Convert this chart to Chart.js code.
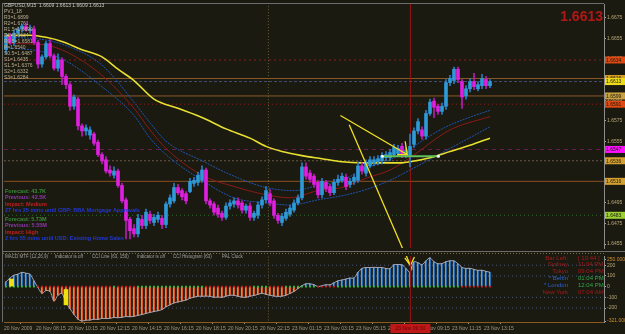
<!DOCTYPE html>
<html><head><meta charset="utf-8"><title>GBPUSD,M15</title>
<script src="https://cdn.jsdelivr.net/npm/chart.js@4.4.1/dist/chart.umd.min.js"></script>
<style>
html,body{margin:0;padding:0;background:#1b1a11;overflow:hidden;}
#wrap{position:relative;width:625px;height:334px;background:#1b1a11;}
canvas{position:absolute;left:0;display:block;}
#c1{top:0;} #c2{top:252px;}
</style></head><body>
<div id="wrap"><canvas id="c1" width="625" height="252"></canvas><canvas id="c2" width="625" height="82"></canvas></div>
<script>
// ===================== DATA =====================
const opens=[1.6644,1.6657,1.6651,1.6660,1.6664,1.6667,1.6663,1.6664,1.6651,1.6630,
1.6637,1.6650,1.6638,1.6626,1.6634,1.6618,1.6610,1.6589,1.6596,1.6570,
1.6565,1.6561,1.6562,1.6554,1.6542,1.6537,1.6527,1.6522,1.6526,1.6512,
1.6498,1.6479,1.6470,1.6465,1.6479,1.6473,1.6484,1.6476,1.6479,1.6480,
1.6474,1.6494,1.6497,1.6510,1.6507,1.6504,1.6506,1.6514,1.6515,1.6517,
1.6527,1.6497,1.6494,1.6490,1.6485,1.6481,1.6492,1.6494,1.6497,1.6495,
1.6488,1.6492,1.6481,1.6483,1.6493,1.6498,1.6504,1.6497,1.6483,1.6476,
1.6480,1.6484,1.6488,1.6495,1.6500,1.6530,1.6524,1.6521,1.6515,1.6503,
1.6515,1.6511,1.6505,1.6515,1.6517,1.6520,1.6513,1.6516,1.6517,1.6531,
1.6524,1.6531,1.6534,1.6535,1.6536,1.6539,1.6539,1.6542,1.6543,1.6550,
1.6542,1.6540,1.6552,1.6565,1.6566,1.6560,1.6582,1.6594,1.6589,1.6584,
1.6589,1.6612,1.6614,1.6625,1.6613,1.6599,1.6606,1.6613,1.6606,1.6609,
1.6615,1.6609];
const highs=[1.6660,1.6660,1.6663,1.6666,1.6669,1.6670,1.6668,1.6667,1.6653,1.6639,
1.6652,1.6654,1.6640,1.6640,1.6636,1.6620,1.6612,1.6600,1.6598,1.6572,
1.6571,1.6569,1.6564,1.6556,1.6544,1.6540,1.6531,1.6530,1.6528,1.6514,
1.6500,1.6481,1.6474,1.6484,1.6483,1.6489,1.6487,1.6484,1.6486,1.6483,
1.6496,1.6503,1.6514,1.6513,1.6509,1.6506,1.6519,1.6520,1.6525,1.6531,
1.6529,1.6499,1.6496,1.6493,1.6487,1.6495,1.6498,1.6500,1.6500,1.6497,
1.6494,1.6495,1.6487,1.6496,1.6501,1.6511,1.6508,1.6499,1.6485,1.6485,
1.6489,1.6493,1.6498,1.6503,1.6534,1.6534,1.6527,1.6523,1.6517,1.6519,
1.6517,1.6513,1.6518,1.6522,1.6524,1.6523,1.6519,1.6523,1.6535,1.6534,
1.6537,1.6540,1.6540,1.6541,1.6544,1.6545,1.6547,1.6552,1.6551,1.6553,
1.6549,1.6562,1.6568,1.6577,1.6569,1.6585,1.6596,1.6597,1.6591,1.6592,
1.6615,1.6619,1.6627,1.6627,1.6615,1.6609,1.6616,1.6621,1.6613,1.6620,
1.6618,1.6615];
const lows=[1.6640,1.6649,1.6648,1.6657,1.6661,1.6662,1.6660,1.6649,1.6626,1.6627,
1.6635,1.6636,1.6624,1.6623,1.6610,1.6606,1.6585,1.6586,1.6566,1.6560,
1.6561,1.6557,1.6551,1.6540,1.6533,1.6524,1.6521,1.6519,1.6510,1.6495,
1.6460,1.6460,1.6462,1.6462,1.6470,1.6470,1.6475,1.6473,1.6476,1.6470,
1.6471,1.6491,1.6495,1.6503,1.6498,1.6494,1.6505,1.6511,1.6512,1.6515,
1.6494,1.6490,1.6483,1.6481,1.6478,1.6479,1.6489,1.6491,1.6490,1.6485,
1.6485,1.6478,1.6478,1.6480,1.6490,1.6495,1.6492,1.6480,1.6475,1.6473,
1.6478,1.6482,1.6486,1.6493,1.6498,1.6518,1.6515,1.6510,1.6500,1.6500,
1.6506,1.6502,1.6503,1.6512,1.6515,1.6508,1.6510,1.6513,1.6515,1.6523,
1.6521,1.6529,1.6531,1.6532,1.6533,1.6536,1.6536,1.6540,1.6540,1.6539,
1.6539,1.6530,1.6549,1.6562,1.6557,1.6557,1.6580,1.6578,1.6581,1.6581,
1.6586,1.6609,1.6611,1.6612,1.6587,1.6596,1.6603,1.6605,1.6604,1.6606,
1.6606,1.6607];
const closes=[1.6657,1.6651,1.6660,1.6664,1.6667,1.6663,1.6664,1.6651,1.6630,1.6637,
1.6650,1.6638,1.6626,1.6634,1.6618,1.6610,1.6589,1.6598,1.6570,1.6565,
1.6568,1.6566,1.6553,1.6542,1.6536,1.6526,1.6524,1.6526,1.6512,1.6497,
1.6478,1.6468,1.6465,1.6480,1.6473,1.6486,1.6478,1.6481,1.6483,1.6474,
1.6494,1.6500,1.6510,1.6505,1.6501,1.6497,1.6516,1.6517,1.6522,1.6527,
1.6497,1.6493,1.6486,1.6484,1.6481,1.6492,1.6495,1.6497,1.6493,1.6488,
1.6492,1.6481,1.6485,1.6493,1.6498,1.6507,1.6495,1.6483,1.6478,1.6482,
1.6486,1.6490,1.6495,1.6500,1.6530,1.6521,1.6518,1.6513,1.6503,1.6516,
1.6509,1.6505,1.6515,1.6518,1.6521,1.6511,1.6516,1.6520,1.6531,1.6526,
1.6534,1.6537,1.6537,1.6538,1.6541,1.6542,1.6544,1.6549,1.6548,1.6542,
1.6546,1.6550,1.6565,1.6574,1.6560,1.6582,1.6593,1.6588,1.6584,1.6589,
1.6612,1.6616,1.6625,1.6615,1.6598,1.6606,1.6613,1.6608,1.6610,1.6616,
1.6609,1.6613];

// moving averages: [bar index, price]
const maSlow=[[0,1.6658],[6,1.6658],[10,1.6656],[14,1.6652],[19,1.6644],[24,1.6637],[28,1.6625],[32,1.6614],[37,1.6596],[43,1.6587],[49,1.6578],[55,1.6567],[61,1.6558],[65,1.6550],[69,1.6545],[74,1.6541],[79,1.6538],[84,1.6535],[89,1.6534],[99,1.6534],[101,1.6535],[106,1.6539],[111,1.6545],[116,1.6551],[121,1.6558]];
const bandUpper=[[0,1.6656],[9,1.6654],[15,1.6648],[24,1.6629],[32,1.6593],[36,1.6573],[40,1.6555],[49,1.6536],[57,1.6521],[65,1.6510],[72,1.6507],[78,1.6512],[84,1.6517],[90,1.6529],[96,1.6537],[101,1.6548],[109,1.6567],[115,1.6577],[121,1.6585]];
const bandMid=[[0,1.6650],[9,1.6649],[15,1.6642],[24,1.6619],[32,1.6587],[36,1.6566],[40,1.6548],[49,1.6522],[57,1.6511],[65,1.6503],[71,1.6500],[78,1.6507],[84,1.6510],[90,1.6519],[96,1.6527],[101,1.6539],[111,1.6566],[121,1.6579]];
const bandLower=[[0,1.6646],[9,1.6642],[15,1.6633],[24,1.6608],[32,1.6580],[36,1.6558],[40,1.6542],[49,1.6517],[57,1.6500],[65,1.6495],[71,1.6493],[78,1.6498],[84,1.6502],[90,1.6508],[96,1.6517],[101,1.6527],[111,1.6548],[121,1.6569]];

// horizontal levels on the price panel
const levelPrices=[1.6634,1.6616,1.6599,1.6591,1.6547,1.6536,1.6516,1.6483,1.6613];
const priceTicks=[1.6455,1.6475,1.6495,1.6515,1.6535,1.6555,1.6575,1.6595,1.6615,1.6635,1.6655,1.6675];
const lastPrice=1.6613;

// drawn objects (bar index, price)
const arrowA=[[83.6,1.6580],[100.3,1.6542],[99.8,1.6555]];
const arrowAWing=[[100.3,1.6542],[97.8,1.6542]];
const arrowB=[[85.8,1.6571],[100.0,1.6443]];
const arrowBSub=[[99.6,331],[101.1,197],[99.7,268]];
const arrowBSubWing=[[101.1,197],[102.1,277]];
const greenSeg=[[94.1,1.65405],[108.1,1.65405]];
const redLineBar=101.1;
const daySepBar=65.6;

// CCI histogram (63)
const cci=[45,80,107,116,134,125,116,54,-9,-62,-36,-45,-134,-80,-62,-152,-205,-259,-304,-321,
-313,-312,-304,-306,-296,-298,-295,-288,-290,-286,-279,-281,-277,-268,-260,-250,-241,-232,-225,-214,
-188,-170,-152,-143,-134,-125,-108,-98,-89,-90,-88,-91,-99,-97,-100,-89,-80,-81,-90,-98,
-99,-89,-82,-72,-62,-72,-80,-88,-91,-89,-80,-63,-45,-18,9,27,26,18,0,9,
18,17,36,54,62,71,80,81,134,170,179,178,180,179,178,170,168,205,206,204,
170,134,232,223,205,241,268,232,214,215,232,241,240,214,179,170,171,161,152,153,143,134];
// zero-line state runs: [first bar, last bar, up(1)/down(-1)]
const trendRuns=[[0,7,1],[8,26,-1],[27,27,1],[28,32,-1],[33,49,1],[50,61,-1],[62,65,1],[66,69,-1],[70,77,1],[78,82,-1],[83,113,1],[114,121,-1]];
const yellowBarIndex=[1.4,15];
const yellowBarFrom=[0,-27];
const yellowBarTo=[71,-170];
const subLevels=[200,100,-100,-200];
const subTicks=[250,200,100,0,-100,-200,-321];

const dateLabels=["20 Nov 2009","20 Nov 08:15","20 Nov 10:15","20 Nov 12:15","20 Nov 14:15","20 Nov 16:15","20 Nov 18:15","20 Nov 20:15","20 Nov 22:15","23 Nov 01:15","23 Nov 03:15","23 Nov 05:15","23 Nov 07:15","23 Nov 09:15","23 Nov 11:15","23 Nov 13:15"];
const cursorDate="23 Nov 09:30";

const infoLines=["GBPUSD,M15  1.6609 1.6613 1.6609 1.6613","PV1_18","R3=1.6899","R2=1.6761","R1.5=1.6690","R1=1.6634","R0.5=1.6581","P=1.6540","S0.5=1.6487","S1=1.6435","S1.5=1.6376","S2=1.6332","S3=1.6284"];
const newsLines=["Forecast: 43.7K","Previous: 42.5K","Impact: Medium","27 hrs 25 mins until GBP: BBA Mortgage Approvals","Forecast: 5.73M","Previous: 5.55M","Impact: High","2 hrs 55 mins until USD: Existing Home Sales"];
const subHeader=["MACD MTF (12,26,9)","Indicator is off","CCI Line (63, 150)","Indicator is off","CCI Histogram (63)","PAL Clock"];
const clockNames=["Bar Left:","Sydney","Tokyo","* Berlin","* London","New York"];
const clockTimes=["[ 10:44 ]","11:04 PM","09:04 PM","01:04 PM","12:04 PM","07:04 AM"];

// ===================== STYLES / LAYOUT =====================
const FONT='"Liberation Sans", Arial, sans-serif';
const levelLineColors=['#8a1c1c','#8a5a28','#8a5a28','#8a1c1c','#6a1e4e','#6a5a48','#8a5020','#2a6a2a','#3e4e78'];
const levelDash=[[2,3],[],[],[1,3],[4,4],[2,2],[],[1,3],[3,2]];
const boxColors=['#e04a12','#d4a020','#c8a040','#e04a12','#ff10ff','#d4a030','#d4a030','#9ad030','#eedc18'];
const newsColors=['#3a8a3a','#8a3aaa','#c02020','#2038d8','#3a8a3a','#8a3aaa','#c02020','#2038d8'];
const newsY=[191,197,204,210,219,225,232,238];
const subHeaderX=[5,55,92,137,173,222];
const clockNameColors=['#a8181a','#a8181a','#a8181a','#2a62d0','#2a62d0','#a8181a'];
const clockTimeColors=['#a8181a','#a8181a','#a8181a','#30a848','#30a848','#a8181a'];
const priceMin=1.64512, priceMax=1.66884;
const subMin=-330, subMax=286;

Chart.defaults.font.family=FONT;
const idx=opens.map((_,i)=>i);
const isBull=i=>closes[i]>=opens[i];
const pts=a=>a.map(p=>({x:p[0],y:p[1]}));
const seg=(a,color,width,dash,order)=>({type:'line',data:pts(a),borderColor:color,borderWidth:width,borderDash:dash||[],pointRadius:0,tension:0,order:order});
const ma=(a,color,width,dash)=>({type:'line',data:pts(a),borderColor:color,borderWidth:width,borderDash:dash||[],pointRadius:0,cubicInterpolationMode:'monotone',order:3});
const xLin={type:'linear',min:-0.5,max:149.5,offset:false,grid:{offset:false}};

// ===================== MAIN PRICE CHART =====================
const mainDatasets=[
 {type:'bar',data:idx.map(i=>({x:i,y:[opens[i],closes[i]]})),backgroundColor:idx.map(i=>isBull(i)?'#2e9ad8':'#e020e0'),barThickness:3,grouped:false,minBarLength:1,order:1},
 {type:'bar',data:idx.map(i=>({x:i,y:[lows[i],highs[i]]})),backgroundColor:idx.map(i=>isBull(i)?'#2a7cc8':'#b81cb8'),barThickness:1,grouped:false,order:2},
 ma(maSlow,'#e8e030',1.6),
 ma(bandUpper,'#1f54b4',1,[2,1]),
 ma(bandMid,'#8a1a1a',1),
 ma(bandLower,'#1f54b4',1,[2,1]),
 seg([[redLineBar,1.60],[redLineBar,1.70]],'#9a1212',1,[],4),
 seg([[daySepBar,1.60],[daySepBar,1.70]],'#6a6038',1,[1,2],6),
 seg(arrowA,'#f0e020',1.3,[],0),
 seg(arrowAWing,'#f0e020',1.3,[],0),
 seg(arrowB,'#f0e020',1.3,[],0),
 Object.assign(seg(greenSeg,'#62c05a',2,[],0),{pointRadius:1.5,pointBackgroundColor:'#ffffff',pointBorderWidth:0})
];
levelPrices.forEach((p,k)=>mainDatasets.push(seg([[-0.5,p],[149.5,p]],levelLineColors[k],1,levelDash[k],5)));

const mainText={id:'mainText',afterDraw(chart){
  const ctx=chart.ctx, a=chart.chartArea, ys=chart.scales.y;
  ctx.save();
  ctx.strokeStyle='#6c6c6c';ctx.lineWidth=1;
  ctx.beginPath();ctx.moveTo(2,3.5);ctx.lineTo(a.right,3.5);ctx.moveTo(2.5,3);ctx.lineTo(2.5,252);
  ctx.moveTo(2,251.5);ctx.lineTo(625,251.5);ctx.stroke();
  ctx.textBaseline='middle';
  ctx.font='5px '+FONT;
  infoLines.forEach((t,k)=>{ctx.fillStyle=k===0?'#c8c8c0':'#b8ac90';ctx.fillText(t,4,6+k*6);});
  ctx.font='bold 5.5px '+FONT;
  newsLines.forEach((t,k)=>{ctx.fillStyle=newsColors[k];ctx.fillText(t,5,newsY[k]);});
  ctx.font='bold 14px '+FONT;ctx.fillStyle='#b41616';ctx.textAlign='right';
  ctx.fillText(lastPrice.toFixed(4),603,17);
  ctx.textAlign='left';
  ctx.font='5px '+FONT;
  levelPrices.forEach((p,k)=>{const y=ys.getPixelForValue(p);ctx.fillStyle=boxColors[k];ctx.fillRect(605,y-3.5,20,7);ctx.fillStyle='#1b1a11';ctx.fillText(p.toFixed(4),606,y+0.5);});
  ctx.restore();
}};

new Chart(document.getElementById('c1'),{
 type:'bar',
 data:{datasets:mainDatasets},
 options:{responsive:false,animation:false,devicePixelRatio:1,
  layout:{padding:{left:3,top:4,right:0,bottom:1}},
  plugins:{legend:{display:false},tooltip:{enabled:false}},
  scales:{
   x:Object.assign({},xLin,{display:false}),
   y:{position:'right',min:priceMin,max:priceMax,
      afterFit(s){s.width=21;},
      afterBuildTicks(s){s.ticks=priceTicks.map(v=>({value:v}));},
      ticks:{color:'#b8a878',font:{size:5},padding:1,autoSkip:false,callback:v=>Number(v).toFixed(4)},
      grid:{drawOnChartArea:false,color:'#b8a878',tickLength:2},
      border:{color:'#8c8c8c'}}
  }}
 ,plugins:[mainText]
});

// ===================== CCI SUB-PANEL =====================
const trendColor=idx.map(i=>{let c='#30c040';trendRuns.forEach(r=>{if(i>=r[0]&&i<=r[1])c=r[2]>0?'#30c040':'#d01c1c';});return c;});
const subDatasets=[
 {type:'line',data:idx.map(i=>({x:i,y:0})),showLine:false,pointStyle:'rect',pointRadius:1.3,pointBackgroundColor:trendColor,pointBorderWidth:0,order:1},
 {type:'line',data:idx.map(i=>({x:i,y:cci[i]})),borderColor:'#a4a4b4',borderWidth:1,pointRadius:0,tension:0.3,order:2},
 {type:'bar',data:idx.map(i=>({x:i,y:cci[i]})),backgroundColor:idx.map(i=>cci[i]>=0?'#4aa8e8':'#f28234'),barPercentage:1,categoryPercentage:1,order:3},
 {type:'bar',data:idx.map(i=>({x:i,y:cci[i]})),backgroundColor:idx.map(i=>cci[i]>=0?'#1c4c92':'#d04422'),barPercentage:1,categoryPercentage:1,order:3},
 {type:'bar',data:yellowBarIndex.map((x,k)=>({x:x,y:[yellowBarFrom[k],yellowBarTo[k]]})),backgroundColor:'#f0e010',barThickness:4,grouped:false,order:0},
 seg([[redLineBar,-400],[redLineBar,400]],'#9a1212',1,[],0),
 seg([[daySepBar,-400],[daySepBar,400]],'#6a6038',1,[1,2],6),
 seg(arrowBSub,'#f0e020',1.3,[],0),
 seg(arrowBSubWing,'#f0e020',1.3,[],0)
];
subLevels.forEach(v=>subDatasets.push(seg([[-0.5,v],[149.5,v]],'#46557e',1,[1,3],7)));

const subText={id:'subText',afterDraw(chart){
  const ctx=chart.ctx, a=chart.chartArea, xs=chart.scales.x;
  ctx.save();
  ctx.strokeStyle='#6c6c6c';ctx.lineWidth=1;
  ctx.beginPath();ctx.moveTo(2.5,0);ctx.lineTo(2.5,a.bottom);ctx.stroke();
  ctx.strokeStyle='#7a7040';ctx.setLineDash([1,2]);
  ctx.beginPath();ctx.moveTo(3,1.5);ctx.lineTo(a.right,1.5);ctx.stroke();ctx.setLineDash([]);
  ctx.textBaseline='middle';
  ctx.font='4.5px '+FONT;ctx.fillStyle='#a0a0a0';
  subHeader.forEach((t,k)=>ctx.fillText(t,subHeaderX[k],5));
  ctx.font='6px '+FONT;
  clockNames.forEach((t,k)=>{const y=6+k*6.8;ctx.textAlign='right';ctx.fillStyle=clockNameColors[k];ctx.fillText(t,568,y);
    ctx.textAlign='left';ctx.fillStyle=clockTimeColors[k];ctx.fillText(clockTimes[k],578,y);});
  const rx=xs.getPixelForValue(redLineBar);
  ctx.strokeStyle='#9a1212';ctx.beginPath();ctx.moveTo(Math.round(rx)+0.5,a.bottom);ctx.lineTo(Math.round(rx)+0.5,72);ctx.stroke();
  ctx.fillStyle='#c01818';ctx.fillRect(rx-20,72,40,9);
  ctx.fillStyle='#5a0808';ctx.font='5px '+FONT;ctx.textAlign='center';ctx.fillText(cursorDate,rx,76.5);
  ctx.restore();
}};

new Chart(document.getElementById('c2'),{
 type:'bar',
 data:{datasets:subDatasets},
 options:{responsive:false,animation:false,devicePixelRatio:1,
  layout:{padding:{left:3,top:1,right:0,bottom:0}},
  plugins:{legend:{display:false},tooltip:{enabled:false}},
  scales:{
   x:Object.assign({},xLin,{position:'bottom',
      afterFit(s){s.height=12;},
      afterBuildTicks(s){s.ticks=dateLabels.map((_,k)=>({value:k*8-0.5}));},
      ticks:{color:'#a09880',font:{size:5},padding:2,align:'start',autoSkip:false,maxRotation:0,minRotation:0,callback:(v,k)=>dateLabels[k]},
      grid:{drawOnChartArea:false,color:'#a09880',tickLength:2},
      border:{color:'#8a5a20'}}),
   y:{position:'right',min:subMin,max:subMax,
      afterFit(s){s.width=21;},
      afterBuildTicks(s){s.ticks=subTicks.map(v=>({value:v}));},
      ticks:{font:{size:5},padding:1,autoSkip:false,
        color:c=>(c.index===0||c.index===subTicks.length-1)?'#d09030':'#b8a878',
        callback:(v,k)=>(k===0||k===subTicks.length-1)?Number(v).toFixed(4):String(v)},
      grid:{drawOnChartArea:false,color:'#b8a878',tickLength:2},
      border:{color:'#8c8c8c'}}
  }}
 ,plugins:[subText]
});
</script>
</body></html>
